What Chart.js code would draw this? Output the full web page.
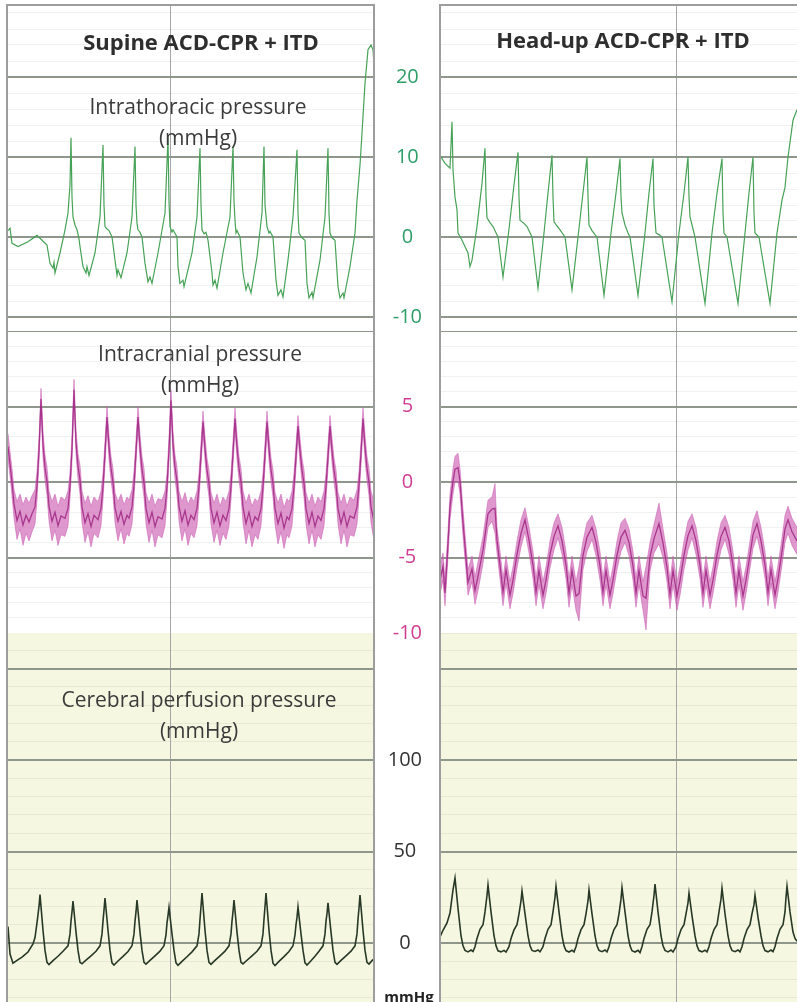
<!DOCTYPE html>
<html>
<head>
<meta charset="utf-8">
<title>Supine vs head-up ACD-CPR + ITD</title>
<script src="https://cdn.jsdelivr.net/npm/chart.js@4.4.1/dist/chart.umd.min.js"></script>
<style>
  body { margin: 0; background: #fff; }
  #page { position: relative; width: 797px; height: 1002px; overflow: hidden; background: #fff;
          font-family: "Open Sans", sans-serif; color: #3b3b3b; }
  .box { position: absolute; }
  .rule { position: absolute; background: #9d9d9d; }
  .txt { position: absolute; text-align: center; white-space: nowrap; transform: translateX(-50%); }
  .title { font-weight: bold; font-size: 22px; line-height: 28px; color: #2e2e2e; }
  .panel { font-size: 21px; line-height: 31px; }
</style>
</head>
<body>
<div id="page">
  <div class="box" style="left:8px;top:5px"><canvas id="itpSupine" width="366" height="326"></canvas></div>
  <div class="box" style="left:8px;top:331px"><canvas id="icpSupine" width="366" height="302"></canvas></div>
  <div class="box" style="left:8px;top:633px"><canvas id="cppSupine" width="366" height="369"></canvas></div>
  <div class="box" style="left:375px;top:633px"><canvas id="cppHeadUp" width="422" height="369"></canvas></div>
  <div class="box" style="left:375px;top:331px"><canvas id="icpHeadUp" width="422" height="318"></canvas></div>
  <div class="box" style="left:375px;top:5px"><canvas id="itpHeadUp" width="422" height="326"></canvas></div>

  <div class="rule" style="left:6px;top:4px;width:2px;height:998px"></div>
  <div class="rule" style="left:373px;top:4px;width:2px;height:998px"></div>
  <div class="rule" style="left:6px;top:4px;width:369px;height:2px"></div>
  <div class="rule" style="left:439px;top:4px;width:2px;height:998px"></div>
  <div class="rule" style="left:439px;top:4px;width:358px;height:2px"></div>

  <div class="txt title" style="left:201px;top:27px">Supine ACD-CPR + ITD</div>
  <div class="txt title" style="left:623px;top:25px">Head-up ACD-CPR + ITD</div>
  <div class="txt panel" style="left:198px;top:91px">Intrathoracic pressure<br>(mmHg)</div>
  <div class="txt panel" style="left:200px;top:338px">Intracranial pressure<br>(mmHg)</div>
  <div class="txt panel" style="left:199px;top:684px">Cerebral perfusion pressure<br>(mmHg)</div>
  <div class="txt" style="left:409px;top:986px;font-size:15px;font-weight:bold;color:#222">mmHg</div>
</div>

<script>
// time axis: samples (~55 per second), values in mmHg
const itpSupine = [[0,0.8],[2,1.1],[4,-0.8],[10,-1.2],[20,-0.6],[29,0.2],[34,-0.4],[39,-1.0],[42,-3.3],[45,-3.9],[46,-3.2],[47,-4.5],[52,-2.0],[57,0.9],[60,3.0],[62,6.5],[63,12.4],[64,5.0],[65,2.5],[67,1.5],[69,0.9],[71,-0.2],[72,-1.2],[75,-3.7],[78,-4.5],[79,-3.7],[81,-4.8],[87,-2.0],[92,2.5],[95,11.5],[96,4.0],[97,1.3],[99,1.0],[101,0.8],[104,0.0],[107,-2.9],[109,-4.8],[110,-4.1],[113,-5.1],[119,-2.0],[124,2.5],[127,11.3],[128,4.0],[129,1.7],[130,0.9],[132,0.6],[134,0.0],[137,-3.3],[140,-5.6],[142,-5.0],[144,-5.8],[150,-2.0],[157,3.0],[160,12.4],[161,4.5],[162,1.3],[164,0.6],[165,0.9],[169,0.0],[170,-3.7],[172,-5.8],[175,-5.4],[176,-6.2],[184,-2.0],[189,2.5],[192,11.1],[193,4.0],[194,0.9],[196,0.4],[198,0.6],[200,-0.4],[204,-4.5],[205,-6.0],[207,-5.4],[209,-6.4],[215,-2.0],[222,2.5],[225,11.3],[226,4.5],[227,2.1],[228,0.5],[229,0.8],[232,0.0],[235,-4.5],[238,-6.6],[240,-5.8],[243,-7.0],[249,-2.5],[254,3.0],[256,11.3],[257,4.0],[259,1.3],[261,0.5],[262,0.7],[265,0.0],[268,-5.4],[270,-7.3],[273,-6.6],[275,-7.5],[280,-2.9],[285,2.5],[289,10.9],[290,3.0],[291,0.5],[294,-0.1],[297,-0.4],[299,-5.8],[301,-7.6],[304,-6.9],[305,-7.6],[312,-2.9],[317,2.5],[320,11.1],[321,3.0],[322,0.5],[324,-0.1],[327,-0.4],[330,-6.2],[332,-7.6],[335,-7.0],[336,-7.6],[342,-3.7],[347,0.5],[349,4.6],[352,9.0],[354,13.0],[357,19.2],[360,23.4],[363,24.0],[365,23.4],[366,21.5]];

const itpHeadUp = [[0,10.2],[5,9.2],[10,8.6],[11,11.5],[12,14.4],[13,8.4],[15,5.0],[17,3.4],[18,0.5],[22,-0.4],[28,-2.0],[30,-3.7],[32,-2.9],[37,1.3],[42,6.7],[45,11.1],[46,5.0],[47,2.4],[50,1.8],[53,1.3],[58,0.0],[63,-5.0],[69,1.0],[74,6.5],[78,10.6],[79,5.0],[80,2.1],[84,1.7],[87,1.3],[92,0.0],[98,-6.4],[104,0.5],[108,5.5],[112,10.2],[113,5.0],[114,1.9],[117,1.4],[120,0.9],[125,0.0],[132,-6.6],[138,0.0],[143,5.5],[147,10.0],[148,5.0],[149,1.5],[152,0.8],[155,0.3],[157,0.0],[164,-7.3],[171,0.5],[176,5.5],[180,9.8],[181,5.0],[182,3.0],[185,1.5],[188,0.5],[190,0.0],[198,-7.3],[205,0.5],[209,5.5],[213,9.8],[214,4.0],[216,0.5],[219,0.3],[222,0.0],[232,-8.1],[239,0.5],[244,5.5],[248,10.0],[249,5.0],[250,2.5],[253,1.0],[255,0.0],[265,-8.3],[272,0.5],[277,5.5],[282,9.8],[283,3.0],[284,0.5],[287,0.0],[298,-8.3],[305,0.5],[309,5.5],[313,10.0],[314,3.0],[315,0.5],[319,0.0],[330,-8.3],[337,0.5],[342,4.6],[345,6.2],[348,10.0],[353,14.6],[357,15.9]];

// noisy ICP traces: [time, lower edge, upper edge] of the trace band
const icpSupine = [[0,1.5,3.2],[2,0.4,2.0],[4,-0.9,0.9],[6,-2.4,-0.5],[9,-3.8,-1.3],[12,-3.1,-0.8],[15,-4.2,-1.5],[18,-3.4,-1.0],[21,-3.9,-1.4],
  [24,-3.3,-0.9],[27,-2.8,-0.5],[29,-1.2,0.7],[31,1.3,2.9],[33,4.8,6.2],[35,1.6,3.3],[37,0.1,1.8],[39,-0.9,1.0],[41,-2.6,-0.6],[44,-3.9,-1.3],[47,-3.2,-0.8],[50,-4.2,-1.6],[53,-3.5,-1.0],
  [57,-3.6,-1.2],[60,-2.9,-0.6],[62,-1.1,0.6],[64,1.4,3.0],[66,5.4,6.8],[68,1.8,3.4],[70,0.2,1.9],[72,-0.8,1.1],[74,-2.7,-0.6],[77,-4.0,-1.4],[80,-3.3,-0.9],[83,-4.3,-1.6],[86,-3.4,-1.0],
  [90,-3.7,-1.3],[93,-2.9,-0.6],[95,-1.2,0.6],[97,1.1,2.7],[99,3.6,5.0],[101,1.5,3.1],[103,0.1,1.7],[105,-0.9,0.9],[107,-2.7,-0.7],[110,-3.9,-1.3],[113,-3.1,-0.8],[116,-4.1,-1.5],[119,-3.4,-1.0],
  [121,-3.6,-1.2],[124,-2.8,-0.5],[126,-1.1,0.7],[128,1.2,2.8],[130,3.6,5.0],[132,1.5,3.1],[134,0.0,1.7],[136,-1.0,0.9],[138,-2.8,-0.7],[141,-4.0,-1.4],[144,-3.2,-0.8],[147,-4.3,-1.6],[150,-3.5,-1.1],
  [154,-3.7,-1.2],[157,-2.9,-0.6],[159,-1.2,0.6],[161,1.3,2.9],[163,4.7,6.1],[165,1.7,3.3],[167,0.2,1.8],[169,-0.9,1.0],[171,-2.6,-0.6],[174,-3.9,-1.3],[177,-3.1,-0.7],[180,-4.2,-1.5],[183,-3.4,-1.0],
  [186,-3.7,-1.3],[189,-2.9,-0.6],[191,-1.2,0.6],[193,1.0,2.6],[195,3.3,4.7],[197,1.4,3.0],[199,0.0,1.6],[201,-1.0,0.8],[203,-2.8,-0.7],[206,-4.0,-1.4],[209,-3.2,-0.8],[212,-4.2,-1.6],[215,-3.4,-1.0],
  [218,-3.8,-1.3],[221,-2.9,-0.6],[223,-1.2,0.6],[225,1.1,2.7],[227,3.5,4.9],[229,1.5,3.1],[231,0.1,1.7],[233,-0.9,0.9],[235,-2.7,-0.6],[238,-4.1,-1.4],[241,-3.2,-0.8],[244,-4.3,-1.6],[247,-3.5,-1.1],
  [250,-3.8,-1.3],[253,-2.9,-0.6],[255,-1.2,0.6],[257,1.0,2.6],[259,3.3,4.7],[261,1.4,3.0],[263,0.0,1.6],[265,-1.0,0.8],[267,-2.8,-0.7],[270,-4.1,-1.4],[273,-3.3,-0.8],[276,-4.4,-1.7],[279,-3.5,-1.1],
  [281,-3.7,-1.3],[284,-2.9,-0.6],[286,-1.2,0.6],[288,0.9,2.5],[290,3.0,4.4],[292,1.3,2.9],[294,0.0,1.6],[296,-1.0,0.8],[298,-2.8,-0.7],[301,-4.1,-1.4],[304,-3.2,-0.8],[307,-4.3,-1.6],[310,-3.5,-1.0],
  [313,-3.8,-1.3],[316,-2.9,-0.6],[318,-1.2,0.6],[320,0.9,2.5],[322,3.0,4.4],[324,1.3,2.9],[326,0.0,1.6],[328,-1.0,0.8],[330,-2.8,-0.7],[333,-4.1,-1.4],[336,-3.2,-0.8],[339,-4.3,-1.6],[342,-3.5,-1.0],
  [346,-3.6,-1.2],[349,-2.8,-0.5],[351,-1.1,0.7],[353,1.1,2.7],[355,3.5,4.9],[357,1.5,3.1],[359,0.1,1.7],[361,-0.9,0.9],[363,-2.7,-0.6],[366,-3.9,-1.3]];

const icpHeadUp = [[0,-7.4,-5.6],[3,-6.5,-4.7],[5,-8.2,-6.5],[8,-5.0,-3.2],[10,-2.5,-0.8],[13,-0.8,0.9],[15,0.0,1.7],[18,0.0,1.9],[20,-0.8,0.9],[23,-3.6,-1.8],[26,-5.9,-4.2],[28,-7.5,-5.8],[32,-6.6,-4.9],[35,-8.1,-6.3],[38,-7.2,-5.3],[43,-5.4,-3.6],[48,-3.0,-1.2],
  [52,-2.6,-1.0],[55,-3.4,-0.1],[57,-4.7,-3.0],[60,-6.4,-4.6],[63,-8.2,-6.4],[66,-6.7,-4.9],[70,-8.4,-6.6],[73,-7.4,-5.6],[77,-5.7,-3.9],[81,-4.3,-2.5],
  [85,-3.3,-1.7],[89,-4.7,-3.0],[93,-6.4,-4.6],[96,-8.2,-6.4],[99,-6.8,-4.9],[103,-8.4,-6.6],[106,-7.4,-5.6],[110,-5.7,-3.9],[114,-4.5,-2.7],
  [118,-3.7,-2.1],[122,-4.8,-3.0],[126,-6.4,-4.6],[129,-8.3,-6.4],[132,-6.8,-4.9],[136,-8.5,-6.6],[139,-9.2,-5.6],[143,-5.8,-3.9],[147,-4.6,-2.7],
  [152,-3.8,-2.2],[156,-4.9,-3.1],[160,-6.5,-4.6],[163,-8.2,-6.4],[166,-6.8,-4.9],[170,-8.4,-6.6],[173,-7.4,-5.6],[177,-5.8,-3.9],[181,-4.6,-2.7],
  [185,-4.0,-2.4],[189,-4.9,-3.1],[193,-6.5,-4.6],[196,-8.3,-6.4],[199,-6.8,-4.9],[203,-8.5,-6.6],[206,-9.8,-5.6],[210,-5.9,-4.0],[214,-4.7,-2.8],
  [219,-4.1,-1.4],[223,-5.0,-3.1],[227,-6.6,-4.7],[230,-8.4,-6.5],[233,-6.8,-4.9],[237,-8.5,-6.6],[240,-7.5,-5.6],[244,-5.8,-3.9],[248,-4.5,-2.6],
  [252,-3.7,-2.1],[256,-4.8,-3.0],[260,-6.4,-4.6],[263,-8.3,-6.4],[266,-6.8,-4.9],[270,-8.4,-6.6],[273,-7.4,-5.6],[277,-5.8,-3.9],[281,-4.5,-2.7],
  [285,-3.8,-2.2],[289,-4.8,-3.0],[293,-6.5,-4.6],[296,-8.3,-6.4],[299,-6.8,-4.9],[303,-8.5,-6.6],[306,-7.4,-5.6],[310,-5.7,-3.9],[313,-4.4,-2.6],
  [317,-3.6,-1.9],[321,-4.8,-3.0],[325,-6.4,-4.6],[328,-8.2,-6.4],[331,-6.7,-4.9],[335,-8.4,-6.6],[338,-7.3,-5.5],[342,-5.5,-3.7],[345,-4.0,-2.2],
  [348,-3.4,-1.6],[352,-4.2,-2.4],[357,-4.8,-3.0]];

const cppSupine = [[0,9.0],[2,-6.0],[5,-11.0],[9,-9.5],[14,-7.7],[20,-4.9],[25,-0.5],[27,3.0],[29,11.0],[31,20.0],
  [32,26.5],[35,7],[37,-4],[39,-10.5],[41,-11.8],[45,-9.6],[50,-7.2],[55,-4.5],[60,-1.5],[62,5],[63,12],[64,17],
  [65,23],[68,6],[70,-4],[72,-10.5],[74,-11.3],[78,-9.3],[83,-7.0],[88,-4.5],[92,-1.5],[94,5],[95,12],[96,18],
  [97,24.6],[100,7],[102,-4],[104,-10.8],[106,-12.0],[110,-9.8],[115,-7.3],[120,-4.6],[124,-1.5],[126,5],[127,12],[128,17],
  [129,23.5],[132,6],[134,-4],[136,-10.5],[138,-11.5],[142,-9.5],[147,-7.0],[152,-4.4],[156,-1.4],[158,4.5],[159,11],[160,15],
  [161,19.5],[164,5],[166,-4],[168,-10.8],[170,-12.2],[174,-10.0],[179,-7.5],[184,-4.8],[189,-1.5],[191,5],[192,13],[193,20],
  [194,27.3],[197,7],[199,-4],[201,-10.5],[203,-11.6],[207,-9.5],[212,-7.0],[217,-4.4],[221,-1.5],[223,5],[224,12],[225,17],
  [226,23.5],[229,6],[231,-4],[233,-10.5],[235,-11.4],[239,-9.4],[244,-7.0],[249,-4.5],[253,-1.5],[255,5],[256,13],[257,20],
  [258,27.3],[261,7],[263,-4],[265,-11.0],[267,-12.3],[271,-10.0],[276,-7.4],[281,-4.6],[285,-1.5],[287,4.5],[288,10],[289,14],
  [290,19.7],[293,5],[295,-4],[297,-10.8],[299,-12.0],[303,-9.7],[307,-7.2],[311,-4.5],[315,-1.5],[317,5],[318,12],[319,16],
  [320,22],[323,6],[325,-4],[327,-10.5],[329,-11.6],[333,-9.5],[338,-7.0],[343,-4.4],[347,-1.5],[349,5],[350,13],[351,19],
  [352,26.2],[355,7],[357,-4],[359,-10.5],[361,-11.5],[364,-9.6],[366,-8.6]];

const cppHeadUp = [[0,3.3],[3,7],[7,11],[10,16.4],[13,29],
  [15,35.5],[18,19],[21,4],[23,-1.5],[25,-4.0],[28,-4.8],[31,-3.8],[33,-4.6],[35,-2.0],[37,2.5],[40,7.5],[43,10],[45,17],[47,26],
  [48,31.7],[51,17],[54,4],[56,-1.5],[58,-4.2],[61,-4.8],[64,-4.0],[66,-4.9],[69,-2.0],[71,2.5],[74,7.2],[77,10],[79,16],[81,23],
  [82,28.5],[85,16],[88,4],[90,-1.5],[92,-4.0],[95,-4.6],[98,-3.8],[100,-4.8],[103,-2.0],[105,2.5],[108,7.5],[111,10],[113,17],[115,25],
  [116,31],[119,17],[122,4],[124,-1.5],[126,-4.1],[129,-4.9],[132,-3.9],[134,-4.8],[136,-2.0],[138,2.5],[141,7.3],[144,10],[146,16],[148,23],
  [149,29],[152,16],[155,4],[157,-1.5],[159,-4.0],[162,-4.7],[165,-3.8],[167,-4.8],[169,-2.0],[171,2.5],[174,7.4],[177,10],[179,16],[181,24],
  [182,30.3],[185,17],[188,4],[190,-1.5],[192,-4.2],[195,-4.9],[198,-3.9],[200,-5.2],[202,-2.0],[204,2.5],[207,7.5],[210,10],[212,17],[214,26],
  [215,32.2],[218,17],[221,4],[223,-1.5],[225,-4.0],[228,-4.8],[231,-3.8],[233,-4.9],[236,-2.0],[238,2.5],[241,7.3],[244,10],[246,16],[248,22],
  [249,27.3],[252,15],[255,4],[257,-1.5],[259,-4.1],[262,-4.8],[265,-3.9],[267,-4.8],[269,-2.0],[271,2.5],[274,7.4],[277,10],[279,17],[281,24],
  [282,30],[285,16],[288,4],[290,-1.5],[292,-4.0],[295,-4.7],[298,-3.8],[300,-4.8],[302,-2.0],[304,2.5],[307,7.4],[310,10],[312,16],[314,21],
  [315,26.2],[318,14],[321,4],[323,-1.5],[325,-4.1],[328,-4.8],[331,-3.8],[333,-4.7],[335,-2.0],[337,2.5],[340,7.5],[343,10],[345,17],[346,25],
  [347,31],[350,17],[353,6],[355,2.5],[357,1.0]];

// axis labels shown in the centre column, and the heavier grid lines
const itpLabels = [20, 10, 0, -10];
const icpLabels = [5, 0, -5, -10];
const cppLabels = [100, 50, 0];
const itpMajor = [-10, 0, 10, 20];
const icpMajor = [-5, 0, 5, 10];
const cppMajor = [0, 50, 100, 150];
const supineMark = [162];
const headUpMark = [236];

function gridValues(from, to, step) {
  const out = [];
  for (let v = from; v <= to + 1e-9; v += step) out.push(Math.round(v * 100) / 100);
  return out;
}

const paperTint = {
  id: 'paperTint',
  beforeDraw(chart, args, opts) {
    if (!opts.color) return;
    const a = chart.chartArea;
    const ctx = chart.ctx;
    ctx.save();
    ctx.fillStyle = opts.color;
    ctx.fillRect(a.left, a.top, a.right - a.left, a.bottom - a.top);
    ctx.restore();
  }
};

const pts = arr => arr.map(p => ({ x: p[0], y: p[1] }));

function lineSet(arr, color, width) {
  return [{ data: pts(arr), borderColor: color, borderWidth: width, fill: false }];
}

// ICP: band between the noise edges, darker core through the middle
function bandSet(arr) {
  return [
    { data: arr.map(p => ({ x: p[0], y: (p[1] + p[2]) / 2 })), borderColor: 'rgba(160,38,130,0.85)', borderWidth: 1.3, fill: false },
    { data: arr.map(p => ({ x: p[0], y: p[2] })), borderColor: 'rgba(200,90,178,0.65)', borderWidth: 0.8,
      backgroundColor: 'rgba(198,78,168,0.58)', fill: '+1' },
    { data: arr.map(p => ({ x: p[0], y: p[1] })), borderColor: 'rgba(200,90,178,0.65)', borderWidth: 0.8, fill: false }
  ];
}

function panel(id, p) {
  const labelled = !!p.labels;
  return new Chart(document.getElementById(id), {
    type: 'line',
    data: { datasets: p.datasets },
    options: {
      responsive: false,
      animation: false,
      events: [],
      layout: { padding: { top: 0, left: 0, right: 0, bottom: p.padBottom || 0 } },
      elements: { point: { radius: 0 }, line: { tension: 0 } },
      plugins: { legend: { display: false }, tooltip: { enabled: false }, paperTint: { color: p.paper } },
      scales: {
        x: {
          type: 'linear', min: 0, max: p.span,
          afterBuildTicks: a => { a.ticks = p.marks.map(v => ({ value: v })); },
          afterFit: a => { a.height = 0; },
          ticks: { display: false },
          grid: { color: '#a6a6a6', lineWidth: 1, drawTicks: false },
          border: { display: false }
        },
        y: {
          min: p.min, max: p.max,
          afterBuildTicks: a => { a.ticks = p.grid.map(v => ({ value: v })); },
          afterFit: a => { a.width = labelled ? 65 : 0; a.paddingTop = 0; a.paddingBottom = 0; },
          ticks: {
            display: labelled, autoSkip: false, crossAlign: 'center', padding: 18,
            color: p.labelColor, font: { family: '"Open Sans", sans-serif', size: 20 },
            callback: v => (labelled && p.labels.includes(v)) ? String(v) : ''
          },
          grid: {
            drawTicks: false,
            color: c => p.major.includes(c.tick.value) ? '#8f968c' : 'rgba(120,120,120,0.10)',
            lineWidth: c => p.major.includes(c.tick.value) ? 2 : 1
          },
          border: { display: false }
        }
      }
    },
    plugins: [paperTint]
  });
}

const itpCfg = { min: -11.75, max: 29, grid: gridValues(-10, 28, 2), major: itpMajor };
const icpCfg = { min: -10, max: 10, grid: gridValues(-10, 10, 1), major: icpMajor };
const cppCfg = { min: -32.2, max: 169.4, grid: gridValues(-30, 160, 10), major: cppMajor, paper: '#f5f7e0' };

panel('itpSupine', Object.assign({}, itpCfg, { span: 366, marks: supineMark, datasets: lineSet(itpSupine, '#47a257', 1.2) }));
panel('icpSupine', Object.assign({}, icpCfg, { span: 366, marks: supineMark, datasets: bandSet(icpSupine) }));
panel('cppSupine', Object.assign({}, cppCfg, { span: 366, marks: supineMark, datasets: lineSet(cppSupine, '#283826', 1.6) }));
panel('itpHeadUp', Object.assign({}, itpCfg, { span: 357, marks: headUpMark, labels: itpLabels, labelColor: '#2f9e68',
  datasets: lineSet(itpHeadUp, '#47a257', 1.2) }));
panel('icpHeadUp', Object.assign({}, icpCfg, { span: 357, marks: headUpMark, labels: icpLabels, labelColor: '#d13d93',
  padBottom: 16, datasets: bandSet(icpHeadUp) }));
panel('cppHeadUp', Object.assign({}, cppCfg, { span: 357, marks: headUpMark, labels: cppLabels, labelColor: '#333333',
  datasets: lineSet(cppHeadUp, '#283826', 1.6) }));
</script>
</body>
</html>
